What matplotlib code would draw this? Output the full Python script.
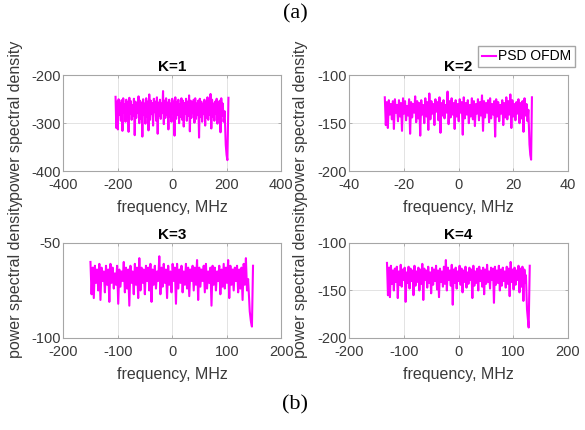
import matplotlib
matplotlib.use("Agg")
import matplotlib.pyplot as plt
import numpy as np

plt.rcParams['font.family'] = ['Liberation Sans', 'DejaVu Sans']
plt.rcParams['axes.unicode_minus'] = False

# panel titles and axis settings
titles = ['K=1', 'K=2', 'K=3', 'K=4']
xlims = [(-400, 400), (-40, 40), (-200, 200), (-200, 200)]
ylims = [(-400, -200), (-200, -100), (-100, -50), (-200, -100)]
xticks = [[-400, -200, 0, 200, 400], [-40, -20, 0, 20, 40],
          [-200, -100, 0, 100, 200], [-200, -100, 0, 100, 200]]
yticks = [[-400, -300, -200], [-200, -150, -100], [-100, -50], [-200, -150, -100]]

# frequency span of the flat (noisy) part and the tail samples, MHz
band_start = [-208, -27.0, -150, -131]
band_end = [188, 25.2, 137, 122]
tail_freq = [[192, 196, 199, 202, 206],
             [25.5, 25.9, 26.2, 26.5, 26.8],
             [139, 142, 144, 146, 148],
             [123, 125, 127, 128, 130]]

# PSD (dB)
psd_k1 = [-245, -310, -255, -313, -250, -282, -258, -295, -252, -316, -248, -278, -260, -297, -251, -287, -256, -318, -247, -281,
          -254, -293, -262, -284, -249, -325, -255, -289, -258, -279, -244, -300, -253, -291, -257, -328, -250, -283, -259, -301,
          -248, -287, -255, -315, -240, -293, -253, -281, -258, -305, -249, -277, -255, -295, -246, -322, -257, -285, -251, -291,
          -259, -279, -233, -302, -253, -289, -248, -283, -257, -313, -251, -287, -259, -297, -249, -279, -255, -326, -246, -291,
          -257, -283, -251, -300, -261, -287, -248, -293, -253, -307, -258, -281, -249, -295, -255, -285, -242, -317, -253, -289,
          -257, -279, -251, -299, -248, -291, -259, -283, -253, -330, -249, -287, -255, -297, -260, -281, -251, -305, -257, -289,
          -246, -293, -253, -283, -239, -311, -251, -287, -259, -295, -255, -281, -249, -301, -257, -291, -253, -319, -248, -285,
          -259, -297]
tail_k1 = [-275, -345, -366, -377, -247]

psd_k2 = [-123, -152, -128, -155, -126, -141, -130, -146, -127, -156, -125, -139, -131, -148, -126, -143, -129, -158, -124, -140,
          -127, -147, -132, -142, -125, -161, -128, -144, -130, -139, -122, -149, -127, -145, -129, -163, -126, -141, -131, -150,
          -124, -143, -128, -157, -119, -146, -127, -140, -130, -152, -125, -138, -128, -147, -123, -160, -129, -142, -126, -145,
          -131, -139, -117, -151, -127, -144, -124, -141, -129, -156, -126, -143, -130, -148, -125, -139, -128, -162, -123, -145,
          -129, -141, -126, -150, -131, -143, -124, -146, -127, -153, -130, -140, -125, -147, -128, -142, -121, -158, -127, -144,
          -129, -139, -126, -149, -124, -145, -130, -141, -127, -164, -125, -143, -128, -148, -131, -140, -126, -152, -129, -144,
          -123, -146, -127, -141, -120, -155, -126, -143, -130, -147, -128, -140, -125, -150, -129, -145, -127, -159, -124, -142,
          -130, -148]
tail_k2 = [-136, -172, -183, -188, -123]

psd_k3 = [-60, -77, -63, -79, -62, -71, -64, -75, -61, -80, -63, -70, -65, -76, -62, -72, -64, -81, -61, -71,
          -63, -74, -66, -72, -62, -82, -64, -73, -65, -70, -60, -76, -63, -74, -64, -83, -62, -71, -65, -77,
          -61, -72, -63, -79, -58, -75, -63, -71, -64, -77, -62, -70, -63, -75, -61, -81, -64, -72, -62, -74,
          -65, -70, -57, -77, -63, -73, -61, -71, -64, -79, -62, -72, -65, -76, -61, -70, -63, -82, -61, -74,
          -64, -71, -62, -76, -65, -72, -61, -74, -63, -78, -64, -70, -62, -75, -63, -72, -59, -80, -63, -73,
          -64, -70, -62, -76, -61, -74, -65, -71, -63, -83, -62, -72, -63, -75, -65, -70, -62, -77, -64, -73,
          -61, -74, -63, -71, -59, -79, -62, -72, -64, -75, -63, -70, -62, -76, -64, -74, -63, -80, -61, -72,
          -58, -75]
tail_k3 = [-69, -86, -91, -94, -62]

psd_k4 = [-121, -155, -126, -157, -124, -143, -129, -150, -127, -141, -125, -158, -130, -144, -123, -146, -128, -139, -126, -162,
          -131, -142, -125, -148, -127, -140, -129, -155, -124, -145, -130, -141, -126, -150, -128, -143, -122, -160, -127, -139,
          -129, -147, -125, -142, -131, -153, -126, -144, -128, -140, -124, -149, -129, -157, -127, -141, -130, -146, -125, -143,
          -118, -150, -126, -139, -129, -145, -123, -165, -128, -142, -126, -148, -130, -140, -124, -144, -127, -152, -129, -141,
          -125, -147, -131, -143, -126, -139, -128, -158, -124, -145, -130, -142, -127, -150, -125, -140, -129, -146, -126, -154,
          -128, -143, -123, -141, -130, -148, -126, -139, -127, -163, -125, -144, -129, -142, -124, -150, -128, -145, -126, -140,
          -130, -147, -125, -143, -127, -156, -120, -141, -128, -149, -126, -144, -129, -139, -124, -152, -127, -146, -125, -161,
          -128, -142]
tail_k4 = [-134, -170, -182, -189, -124]

psd = [psd_k1, psd_k2, psd_k3, psd_k4]
tails = [tail_k1, tail_k2, tail_k3, tail_k4]

# axes rectangles in figure fractions
positions = [[0.108, 0.602, 0.373, 0.223], [0.597, 0.602, 0.374, 0.223],
             [0.108, 0.214, 0.373, 0.221], [0.597, 0.214, 0.374, 0.221]]
label_y = [0.53, 0.53, 0.63, 0.63]

fig = plt.figure(figsize=(5.85, 4.30), dpi=100)

lines = []
for i in range(4):
    ax = fig.add_axes(positions[i])
    f = np.concatenate([np.linspace(band_start[i], band_end[i], len(psd[i])), tail_freq[i]])
    p = np.concatenate([psd[i], tails[i]])
    ln, = ax.plot(f, p, color='#ff00ff', lw=1.5)
    lines.append(ln)
    ax.set_xlim(xlims[i])
    ax.set_ylim(ylims[i])
    ax.set_xticks(xticks[i])
    ax.set_yticks(yticks[i])
    ax.grid(True, color='#e3e3e3', lw=0.7)
    ax.set_axisbelow(True)
    for s in ax.spines.values():
        s.set_color('#a6a6a6')
        s.set_linewidth(0.8)
    ax.tick_params(direction='in', length=2.5, width=0.6, color='#a6a6a6',
                   labelcolor='#3a3a3a', labelsize=10.5, top=True, right=True)
    ax.tick_params(axis='x', pad=5)
    ax.tick_params(axis='y', pad=2)
    ax.set_title(titles[i], fontsize=11, fontweight='bold', pad=3)
    ax.set_xlabel('frequency, MHz', fontsize=11.5, color='#3a3a3a', labelpad=6)
    ax.set_ylabel('power spectral density', fontsize=11.5, color='#3a3a3a')
    if i % 2 == 0:
        ax.yaxis.set_label_coords(-0.183, label_y[i])
    else:
        ax.yaxis.set_label_coords(-0.187, label_y[i])

fig.legend([lines[1]], ['PSD OFDM'], loc='upper right', bbox_to_anchor=(0.983, 0.893),
           fontsize=10, handlelength=1.0, handletextpad=0.2, borderpad=0.25,
           borderaxespad=0, fancybox=False, edgecolor='#a6a6a6', framealpha=1)

fig.text(0.505, 0.967, '(a)', ha='center', va='center', fontsize=16, family='Liberation Serif')
fig.text(0.505, 0.058, '(b)', ha='center', va='center', fontsize=16, family='Liberation Serif')

fig.savefig('out.png', dpi=100)
